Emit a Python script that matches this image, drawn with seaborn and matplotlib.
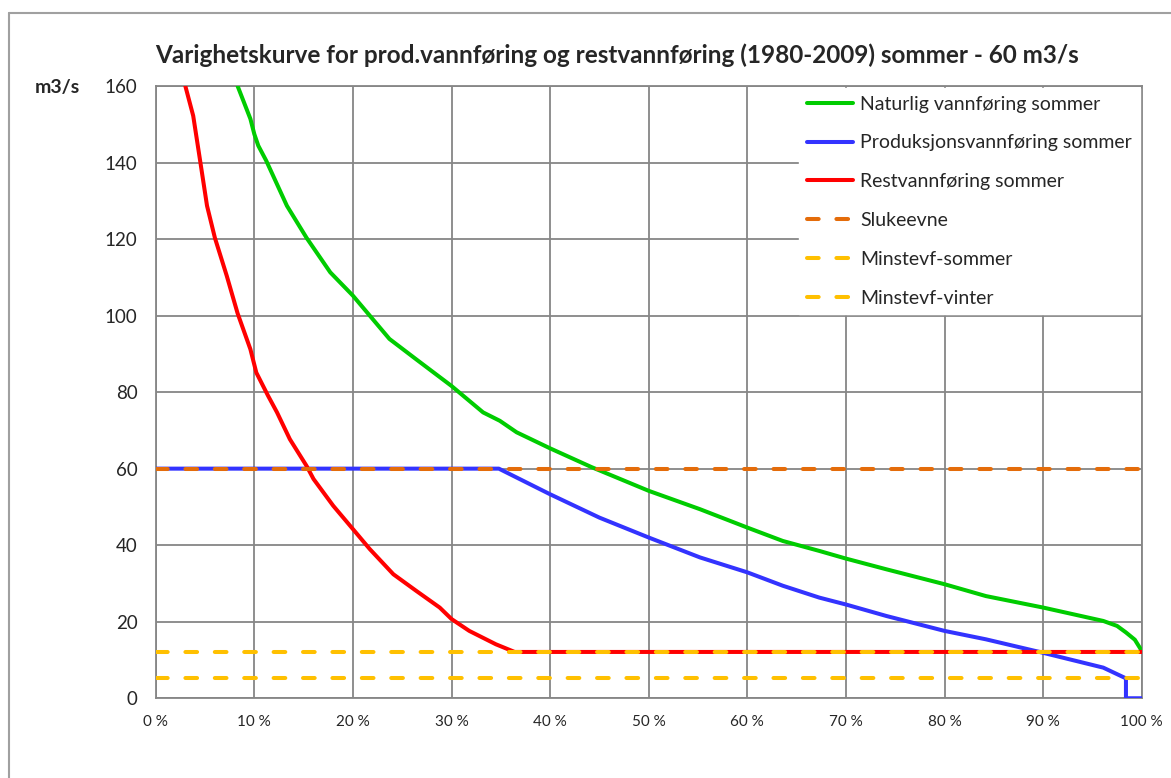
import numpy as np
import pandas as pd
import matplotlib
matplotlib.use('Agg')
import matplotlib.pyplot as plt
from matplotlib.lines import Line2D
from matplotlib.ticker import FuncFormatter
import seaborn as sns

# ── Data ──────────────────────────────────────────────────
natur_x = [8.3, 9.6, 10.0, 10.4, 11.2, 13.3, 15.3, 17.7, 20.0, 23.7, 26.4, 30.0,
           33.2, 34.9, 36.6, 40.0, 44.2, 50.0, 55.2, 60.0, 63.6, 67.3, 70.0,
           74.1, 80.0, 84.2, 90.0, 96.1, 97.5, 98.4, 99.3, 100.0]
natur_y = [160, 151.4, 147.4, 144.4, 140.5, 128.7, 120.3, 111.3, 105.2, 93.9, 88.6, 81.6,
           74.7, 72.5, 69.5, 65.3, 60.4, 54.2, 49.4, 44.6, 41.1, 38.5, 36.5,
           33.7, 29.8, 26.7, 23.7, 20.2, 18.9, 17.2, 15.3, 12.4]

prod_x = [0.0, 34.8, 40.0, 45.0, 50.0, 55.2, 60.0, 63.6, 67.3, 70.0, 74.1,
          80.0, 84.2, 89.8, 96.1, 98.4, 98.4, 100.0]
prod_y = [60, 60, 53.3, 47.2, 42.0, 36.8, 32.9, 29.4, 26.3, 24.5, 21.5,
          17.6, 15.4, 12.0, 8.0, 5.2, 0, 0]

rest_x = [3.0, 3.8, 4.5, 5.2, 6.0, 7.2, 8.3, 9.6, 10.2, 11.4, 12.3, 13.6, 15.3,
          16.0, 18.0, 20.0, 21.7, 24.1, 26.4, 28.8, 30.0, 31.8, 34.5, 36.4, 100.0]
rest_y = [160, 152.2, 140.5, 128.7, 120.3, 110.4, 100.6, 91.2, 85.1, 79.0, 74.7, 67.7, 60.7,
          57.3, 50.3, 44.2, 39.0, 32.4, 28.1, 23.7, 20.7, 17.6, 14.1, 12.1, 12.1]

slukeevne = 60
minstevf_sommer = 12
minstevf_vinter = 5.3

series_names = ['Naturlig vannføring sommer', 'Produksjonsvannføring sommer',
                'Restvannføring sommer', 'Slukeevne', 'Minstevf-sommer', 'Minstevf-vinter']
colors = ['#00CC00', '#3333FF', '#FF0000', '#E46C0A', '#FFC000', '#FFC000']

title = 'Varighetskurve for prod.vannføring og restvannføring (1980-2009) sommer - 60 m3/s'

# ── Style ─────────────────────────────────────────────────
sns.set_style('white')
plt.rcParams['font.family'] = ['Lato', 'DejaVu Sans']

fig = plt.figure(figsize=(11.71, 7.78), dpi=100)
ax = fig.add_axes([0.133, 0.1025, 0.842, 0.787])

lw = 2.9
curves = [(natur_x, natur_y), (prod_x, prod_y), (rest_x, rest_y)]
for (xs, ys), name, col in zip(curves, series_names[:3], colors[:3]):
    df = pd.DataFrame({'x': xs, 'y': ys})
    sns.lineplot(data=df, x='x', y='y', color=col, linewidth=lw, ax=ax,
                 label=name, sort=False, estimator=None, zorder=3)

for val, name, col in zip([slukeevne, minstevf_sommer, minstevf_vinter],
                          series_names[3:], colors[3:]):
    df = pd.DataFrame({'x': [0, 100], 'y': [val, val]})
    sns.lineplot(data=df, x='x', y='y', color=col, linewidth=lw, ax=ax,
                 label=name, dashes=False, linestyle=(0, (2.9, 4.4)),
                 dash_capstyle='round', zorder=4)

ax.set_xlim(0, 100)
ax.set_ylim(0, 160)
ax.set_xticks(np.arange(0, 101, 10))
ax.set_yticks(np.arange(0, 161, 20))
ax.xaxis.set_major_formatter(FuncFormatter(lambda v, p: f'{int(v)} %'))
ax.tick_params(axis='x', labelsize=11, pad=12, length=0)
ax.tick_params(axis='y', labelsize=13.5, pad=13, length=0)
ax.set_xlabel('')
ax.set_ylabel('')
ax.grid(True, color='#868686', linewidth=1.3)
for s in ax.spines.values():
    s.set_color('#868686')
    s.set_linewidth(1.3)

leg = ax.legend(loc='upper right', bbox_to_anchor=(1.0, 1.0), frameon=True,
                fancybox=False, framealpha=1, edgecolor='white', fontsize=14,
                handlelength=2.4, handletextpad=0.35, labelspacing=1.12,
                borderpad=0.4, borderaxespad=0.1)
leg.set_zorder(10)

fig.text(0.527, 0.929, title, ha='center', va='center', fontsize=17.5, fontweight='bold')
fig.text(0.03, 0.888, 'm3/s', ha='left', va='center', fontsize=14, fontweight='bold')

# outer chart border (Excel style)
fig.add_artist(Line2D([0.0075, 0.0075], [0.0, 0.983], color='#A0A0A0', linewidth=1.5))
fig.add_artist(Line2D([0.0075, 1.0], [0.983, 0.983], color='#A0A0A0', linewidth=1.5))

fig.savefig('out.png', dpi=100)
